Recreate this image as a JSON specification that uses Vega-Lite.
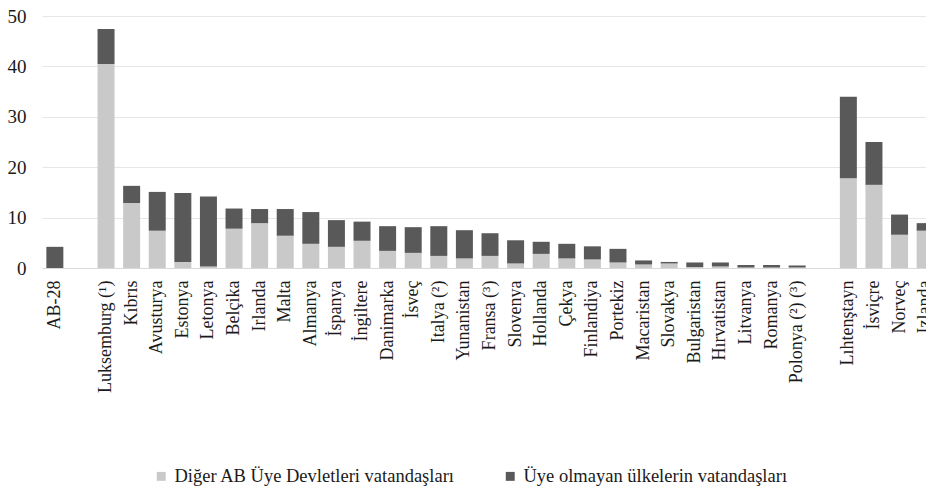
{
  "$schema": "https://vega.github.io/schema/vega-lite/v6.json",
  "autosize": {"type": "none"},
  "width": 884,
  "height": 252,
  "padding": {"left": 42, "top": 16, "right": 0, "bottom": 221},
  "config": {"font": "Liberation Serif", "view": {"stroke": null}},
  "data": {"values": [
    {"ulke": "AB-28", "grup": "Diğer AB Üye Devletleri vatandaşları", "deger": 0},
    {"ulke": "AB-28", "grup": "Üye olmayan ülkelerin vatandaşları", "deger": 4.2},
    {"ulke": "Luksemburg (¹)", "grup": "Diğer AB Üye Devletleri vatandaşları", "deger": 40.5},
    {"ulke": "Luksemburg (¹)", "grup": "Üye olmayan ülkelerin vatandaşları", "deger": 6.9},
    {"ulke": "Kıbrıs", "grup": "Diğer AB Üye Devletleri vatandaşları", "deger": 12.9},
    {"ulke": "Kıbrıs", "grup": "Üye olmayan ülkelerin vatandaşları", "deger": 3.4},
    {"ulke": "Avusturya", "grup": "Diğer AB Üye Devletleri vatandaşları", "deger": 7.4},
    {"ulke": "Avusturya", "grup": "Üye olmayan ülkelerin vatandaşları", "deger": 7.7},
    {"ulke": "Estonya", "grup": "Diğer AB Üye Devletleri vatandaşları", "deger": 1.2},
    {"ulke": "Estonya", "grup": "Üye olmayan ülkelerin vatandaşları", "deger": 13.7},
    {"ulke": "Letonya", "grup": "Diğer AB Üye Devletleri vatandaşları", "deger": 0.3},
    {"ulke": "Letonya", "grup": "Üye olmayan ülkelerin vatandaşları", "deger": 13.9},
    {"ulke": "Belçika", "grup": "Diğer AB Üye Devletleri vatandaşları", "deger": 7.8},
    {"ulke": "Belçika", "grup": "Üye olmayan ülkelerin vatandaşları", "deger": 4.0},
    {"ulke": "Irlanda", "grup": "Diğer AB Üye Devletleri vatandaşları", "deger": 8.9},
    {"ulke": "Irlanda", "grup": "Üye olmayan ülkelerin vatandaşları", "deger": 2.8},
    {"ulke": "Malta", "grup": "Diğer AB Üye Devletleri vatandaşları", "deger": 6.4},
    {"ulke": "Malta", "grup": "Üye olmayan ülkelerin vatandaşları", "deger": 5.3},
    {"ulke": "Almanya", "grup": "Diğer AB Üye Devletleri vatandaşları", "deger": 4.8},
    {"ulke": "Almanya", "grup": "Üye olmayan ülkelerin vatandaşları", "deger": 6.3},
    {"ulke": "İspanya", "grup": "Diğer AB Üye Devletleri vatandaşları", "deger": 4.2},
    {"ulke": "İspanya", "grup": "Üye olmayan ülkelerin vatandaşları", "deger": 5.3},
    {"ulke": "İngiltere", "grup": "Diğer AB Üye Devletleri vatandaşları", "deger": 5.4},
    {"ulke": "İngiltere", "grup": "Üye olmayan ülkelerin vatandaşları", "deger": 3.8},
    {"ulke": "Danimarka", "grup": "Diğer AB Üye Devletleri vatandaşları", "deger": 3.4},
    {"ulke": "Danimarka", "grup": "Üye olmayan ülkelerin vatandaşları", "deger": 4.9},
    {"ulke": "İsveç", "grup": "Diğer AB Üye Devletleri vatandaşları", "deger": 3.0},
    {"ulke": "İsveç", "grup": "Üye olmayan ülkelerin vatandaşları", "deger": 5.1},
    {"ulke": "Italya (²)", "grup": "Diğer AB Üye Devletleri vatandaşları", "deger": 2.4},
    {"ulke": "Italya (²)", "grup": "Üye olmayan ülkelerin vatandaşları", "deger": 5.9},
    {"ulke": "Yunanistan", "grup": "Diğer AB Üye Devletleri vatandaşları", "deger": 1.9},
    {"ulke": "Yunanistan", "grup": "Üye olmayan ülkelerin vatandaşları", "deger": 5.6},
    {"ulke": "Fransa (³)", "grup": "Diğer AB Üye Devletleri vatandaşları", "deger": 2.4},
    {"ulke": "Fransa (³)", "grup": "Üye olmayan ülkelerin vatandaşları", "deger": 4.5},
    {"ulke": "Slovenya", "grup": "Diğer AB Üye Devletleri vatandaşları", "deger": 0.9},
    {"ulke": "Slovenya", "grup": "Üye olmayan ülkelerin vatandaşları", "deger": 4.6},
    {"ulke": "Hollanda", "grup": "Diğer AB Üye Devletleri vatandaşları", "deger": 2.8},
    {"ulke": "Hollanda", "grup": "Üye olmayan ülkelerin vatandaşları", "deger": 2.4},
    {"ulke": "Çekya", "grup": "Diğer AB Üye Devletleri vatandaşları", "deger": 1.9},
    {"ulke": "Çekya", "grup": "Üye olmayan ülkelerin vatandaşları", "deger": 2.9},
    {"ulke": "Finlandiya", "grup": "Diğer AB Üye Devletleri vatandaşları", "deger": 1.7},
    {"ulke": "Finlandiya", "grup": "Üye olmayan ülkelerin vatandaşları", "deger": 2.6},
    {"ulke": "Portekiz", "grup": "Diğer AB Üye Devletleri vatandaşları", "deger": 1.1},
    {"ulke": "Portekiz", "grup": "Üye olmayan ülkelerin vatandaşları", "deger": 2.7},
    {"ulke": "Macaristan", "grup": "Diğer AB Üye Devletleri vatandaşları", "deger": 0.7},
    {"ulke": "Macaristan", "grup": "Üye olmayan ülkelerin vatandaşları", "deger": 0.8},
    {"ulke": "Slovakya", "grup": "Diğer AB Üye Devletleri vatandaşları", "deger": 0.9},
    {"ulke": "Slovakya", "grup": "Üye olmayan ülkelerin vatandaşları", "deger": 0.3},
    {"ulke": "Bulgaristan", "grup": "Diğer AB Üye Devletleri vatandaşları", "deger": 0.2},
    {"ulke": "Bulgaristan", "grup": "Üye olmayan ülkelerin vatandaşları", "deger": 0.9},
    {"ulke": "Hırvatistan", "grup": "Diğer AB Üye Devletleri vatandaşları", "deger": 0.3},
    {"ulke": "Hırvatistan", "grup": "Üye olmayan ülkelerin vatandaşları", "deger": 0.8},
    {"ulke": "Litvanya", "grup": "Diğer AB Üye Devletleri vatandaşları", "deger": 0.1},
    {"ulke": "Litvanya", "grup": "Üye olmayan ülkelerin vatandaşları", "deger": 0.5},
    {"ulke": "Romanya", "grup": "Diğer AB Üye Devletleri vatandaşları", "deger": 0.1},
    {"ulke": "Romanya", "grup": "Üye olmayan ülkelerin vatandaşları", "deger": 0.5},
    {"ulke": "Polonya (²) (³)", "grup": "Diğer AB Üye Devletleri vatandaşları", "deger": 0.1},
    {"ulke": "Polonya (²) (³)", "grup": "Üye olmayan ülkelerin vatandaşları", "deger": 0.4},
    {"ulke": "Lıhtenştayn", "grup": "Diğer AB Üye Devletleri vatandaşları", "deger": 17.8},
    {"ulke": "Lıhtenştayn", "grup": "Üye olmayan ülkelerin vatandaşları", "deger": 16.2},
    {"ulke": "İsviçre", "grup": "Diğer AB Üye Devletleri vatandaşları", "deger": 16.5},
    {"ulke": "İsviçre", "grup": "Üye olmayan ülkelerin vatandaşları", "deger": 8.5},
    {"ulke": "Norveç", "grup": "Diğer AB Üye Devletleri vatandaşları", "deger": 6.6},
    {"ulke": "Norveç", "grup": "Üye olmayan ülkelerin vatandaşları", "deger": 4.0},
    {"ulke": "Izlanda", "grup": "Diğer AB Üye Devletleri vatandaşları", "deger": 7.4},
    {"ulke": "Izlanda", "grup": "Üye olmayan ülkelerin vatandaşları", "deger": 1.5}
  ]},
  "mark": {"type": "bar"},
  "encoding": {
    "x": {
      "field": "ulke",
      "type": "nominal",
      "sort": null,
      "scale": {
        "domain": ["AB-28", " ", "Luksemburg (¹)", "Kıbrıs", "Avusturya", "Estonya", "Letonya", "Belçika", "Irlanda", "Malta", "Almanya", "İspanya", "İngiltere", "Danimarka", "İsveç", "Italya (²)", "Yunanistan", "Fransa (³)", "Slovenya", "Hollanda", "Çekya", "Finlandiya", "Portekiz", "Macaristan", "Slovakya", "Bulgaristan", "Hırvatistan", "Litvanya", "Romanya", "Polonya (²) (³)", "  ", "Lıhtenştayn", "İsviçre", "Norveç", "Izlanda"],
        "paddingInner": 0.336,
        "paddingOuter": 0.17,
        "range": [0, 896]
      },
      "axis": {
        "title": null,
        "labelAngle": -90,
        "labelFont": "Liberation Serif",
        "labelFontSize": 18,
        "labelColor": "#1a1a1a",
        "labelPadding": 12,
        "labelOverlap": false,
        "labelLimit": 0,
        "ticks": false,
        "domainColor": "#d9d9d9",
        "labelExpr": "trim(datum.value) == '' ? '' : datum.value"
      }
    },
    "y": {
      "field": "deger",
      "type": "quantitative",
      "stack": "zero",
      "scale": {"domain": [0, 50]},
      "axis": {
        "title": null,
        "values": [0, 10, 20, 30, 40, 50],
        "domain": false,
        "ticks": false,
        "labelFont": "Liberation Serif",
        "labelFontSize": 19,
        "labelColor": "#1a1a1a",
        "labelPadding": 16,
        "gridColor": "#e6e6e6"
      }
    },
    "order": {"field": "grup", "sort": "ascending"},
    "color": {
      "field": "grup",
      "type": "nominal",
      "scale": {
        "domain": ["Diğer AB Üye Devletleri vatandaşları", "Üye olmayan ülkelerin vatandaşları"],
        "range": ["#c9c9c9", "#595959"]
      },
      "legend": {
        "title": null,
        "orient": "none",
        "legendX": 110,
        "legendY": 451,
        "direction": "horizontal",
        "labelFont": "Liberation Serif",
        "labelFontSize": 18.5,
        "labelColor": "#1a1a1a",
        "labelLimit": 0,
        "symbolType": "square",
        "symbolSize": 80,
        "symbolStrokeWidth": 0,
        "columnPadding": 46,
        "labelOffset": 4
      }
    }
  }
}
